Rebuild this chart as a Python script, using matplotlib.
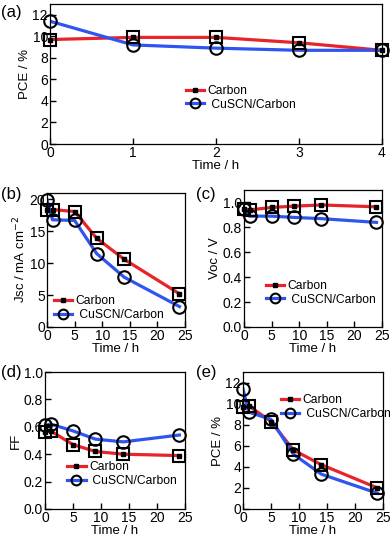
import matplotlib
matplotlib.use("Agg")
import matplotlib.pyplot as plt
from matplotlib.lines import Line2D

plt.rcParams['font.family'] = ['Liberation Sans', 'DejaVu Sans']
plt.rcParams['font.size'] = 10

# panel (a): first hours
t_a = [0, 1, 2, 3, 4]
pce_a_carbon = [9.7, 9.9, 9.9, 9.4, 8.7]
pce_a_cuscn = [11.4, 9.2, 8.9, 8.7, 8.7]

# panels (b)-(e): 24 h
t_long = [0, 1, 5, 9, 14, 24]
jsc_carbon = [18.4, 18.4, 18.1, 13.9, 10.6, 5.2]
jsc_cuscn = [19.9, 16.8, 16.7, 11.5, 7.8, 3.2]
voc_carbon = [0.95, 0.94, 0.96, 0.97, 0.98, 0.965]
voc_cuscn = [0.95, 0.89, 0.89, 0.88, 0.87, 0.84]
ff_carbon = [0.56, 0.57, 0.47, 0.42, 0.40, 0.39]
ff_cuscn = [0.61, 0.62, 0.57, 0.51, 0.49, 0.54]
pce_carbon = [9.7, 9.8, 8.3, 5.6, 4.2, 2.0]
pce_cuscn = [11.4, 9.2, 8.5, 5.2, 3.3, 1.5]

RED = '#e8232a'
BLUE = '#2f55f0'

W, H = 392, 538
fig = plt.figure(figsize=(W / 100, H / 100), dpi=100)


def px_axes(left, right, top, bottom):
    return fig.add_axes([left / W, 1 - bottom / H, (right - left) / W, (bottom - top) / H])


def draw(ax, t, yc, yu):
    ax.plot(t, yc, color=RED, lw=2.3, zorder=2)
    ax.plot(t, yu, color=BLUE, lw=2.3, zorder=2)
    ax.plot(t, yc, ls='none', marker='s', ms=8, mfc='none', mec='black', mew=1.5,
            zorder=4, clip_on=False)
    ax.plot(t, yc, ls='none', marker='s', ms=2.5, color='black', zorder=5, clip_on=False)
    ax.plot(t, yu, ls='none', marker='o', ms=9, mfc='none', mec='black', mew=1.5,
            zorder=4, clip_on=False)
    ax.tick_params(direction='in', length=4, width=1, labelsize=10, pad=1.5)
    for s in ax.spines.values():
        s.set_linewidth(0.9)


def labels(ax, yl):
    ax.set_xlabel('Time / h', fontsize=9.5, labelpad=0)
    ax.set_ylabel(yl, fontsize=9.5, labelpad=1)


def add_legend(ax, x, y):
    h1 = Line2D([], [], color=RED, lw=2.3, marker='s', ms=3, mfc='black', mec='black')
    h2 = Line2D([], [], color=BLUE, lw=2.3, marker='o', ms=7, mfc='none', mec='black', mew=1.5)
    ax.legend([h1, h2], ['Carbon', ' CuSCN/Carbon'], loc='center left',
              bbox_to_anchor=(x, y), frameon=False, fontsize=8.7, handlelength=1.5,
              handletextpad=0.3, labelspacing=0.15, borderpad=0, borderaxespad=0)


# (a)
ax = px_axes(50, 382, 4, 144)
draw(ax, t_a, pce_a_carbon, pce_a_cuscn)
ax.set_xlim(0, 4)
ax.set_ylim(0, 13)
ax.set_xticks([0, 1, 2, 3, 4])
ax.set_yticks(range(0, 13, 2))
labels(ax, 'PCE / %')
add_legend(ax, 0.41, 0.33)

# (b)
ax = px_axes(47, 185, 193, 327)
draw(ax, t_long, jsc_carbon, jsc_cuscn)
ax.set_xlim(0, 25)
ax.set_ylim(0, 21)
ax.set_xticks(range(0, 26, 5))
ax.set_yticks(range(0, 21, 5))
labels(ax, 'Jsc / mA cm$^{-2}$')
add_legend(ax, 0.05, 0.14)

# (c)
ax = px_axes(244, 382, 190, 327)
draw(ax, t_long, voc_carbon, voc_cuscn)
ax.set_xlim(0, 25)
ax.set_ylim(0, 1.1)
ax.set_xticks(range(0, 26, 5))
ax.set_yticks([0.0, 0.2, 0.4, 0.6, 0.8, 1.0])
ax.set_yticklabels(['0.0', '0.2', '0.4', '0.6', '0.8', '1.0'])
labels(ax, 'Voc / V')
add_legend(ax, 0.16, 0.25)

# (d)
ax = px_axes(45, 185, 372, 509)
draw(ax, t_long, ff_carbon, ff_cuscn)
ax.set_xlim(0, 25)
ax.set_ylim(0, 1.0)
ax.set_xticks(range(0, 26, 5))
ax.set_yticks([0.0, 0.2, 0.4, 0.6, 0.8, 1.0])
ax.set_yticklabels(['0.0', '0.2', '0.4', '0.6', '0.8', '1.0'])
labels(ax, 'FF')
add_legend(ax, 0.16, 0.255)

# (e)
ax = px_axes(243, 383, 372, 509)
draw(ax, t_long, pce_carbon, pce_cuscn)
ax.set_xlim(0, 25)
ax.set_ylim(0, 13)
ax.set_xticks(range(0, 26, 5))
ax.set_yticks(range(0, 13, 2))
labels(ax, 'PCE / %')
add_legend(ax, 0.27, 0.745)

# panel letters
for lab, x, y in [('(a)', 1, 13), ('(b)', 1, 195), ('(c)', 196, 195),
                  ('(d)', 1, 373), ('(e)', 196, 373)]:
    fig.text(x / W, 1 - y / H, lab, fontsize=12, va='center', ha='left')

fig.savefig('out.png', dpi=100)
